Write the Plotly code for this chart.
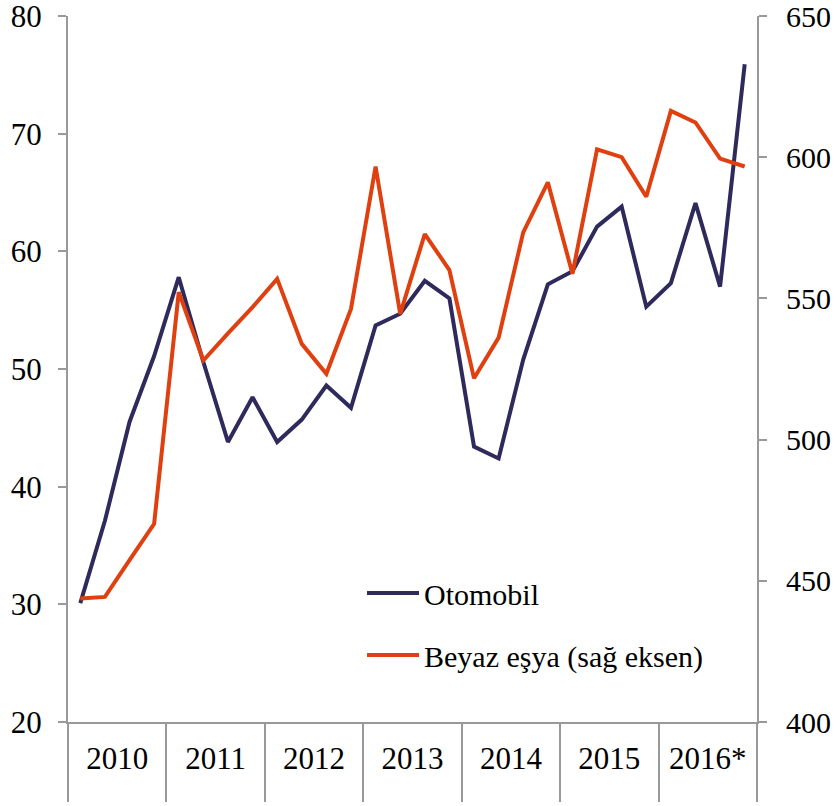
import plotly.graph_objects as go

quarters = list(range(28))
years = ["2010", "2011", "2012", "2013", "2014", "2015", "2016*"]
otomobil = [30.1, 37.1, 45.5, 51.1, 57.8, 50.6, 43.8, 47.6, 43.8, 45.7, 48.6, 46.7,
            53.7, 54.7, 57.5, 56.0, 43.4, 42.4, 50.8, 57.2, 58.3, 62.1, 63.8, 55.3,
            57.3, 64.1, 57.0, 75.9]
beyaz_esya = [443.7, 444.3, 457.3, 470.2, 552.2, 528.0, 537.6, 546.9, 556.9, 533.9,
              523.3, 546.3, 596.7, 544.5, 572.8, 560.0, 521.7, 536.1, 573.4, 591.1,
              558.7, 602.8, 600.0, 586.0, 616.4, 612.3, 599.5, 596.7]

NAVY = "#2e2a5c"
ORANGE = "#e0400f"
AXIS = "#999999"
FONT = "Liberation Serif"

year_centers = [i * 4 + 1.5 for i in range(len(years))]
year_bounds = [i * 4 - 0.5 for i in range(len(years) + 1)]

fig = go.Figure()
fig.add_trace(go.Scatter(x=quarters, y=otomobil, mode="lines", name="Otomobil",
                         line=dict(color=NAVY, width=4), legendgroup="a"))
fig.add_trace(go.Scatter(x=quarters, y=beyaz_esya, mode="lines", name="Beyaz eşya (sağ eksen)",
                         line=dict(color=ORANGE, width=4), yaxis="y2", legendgroup="b"))

fig.update_layout(
    width=837, height=806,
    margin=dict(l=68, r=80, t=16, b=84),
    paper_bgcolor="white", plot_bgcolor="white",
    font=dict(family=FONT, size=30, color="black"),
    showlegend=True,
    legend=dict(x=(362 - 68) / 689, xanchor="left", y=0.2195, yanchor="top",
                bgcolor="rgba(0,0,0,0)", borderwidth=0, itemwidth=52,
                tracegroupgap=20, font=dict(family=FONT, size=30)),
    xaxis=dict(range=[-0.5, 27.5], showgrid=False, zeroline=False, automargin=False,
               showline=True, linecolor=AXIS, linewidth=2,
               tickmode="array", tickvals=year_centers, ticktext=years,
               ticks="outside", ticklen=8, tickcolor="rgba(0,0,0,0)",
               minor=dict(tickmode="array", tickvals=year_bounds, ticks="outside",
                          ticklen=78, tickcolor=AXIS, tickwidth=1.5, showgrid=False),
               tickfont=dict(family=FONT, size=31)),
    yaxis=dict(range=[20, 80], dtick=10, showgrid=False, zeroline=False, automargin=False,
               showline=True, linecolor=AXIS, linewidth=2,
               ticks="outside", ticklen=8, tickcolor=AXIS, tickwidth=2,
               ticklabeloverflow="allow",
               ticklabelstandoff=10, tickfont=dict(family=FONT, size=31)),
    yaxis2=dict(range=[400, 650], dtick=50, overlaying="y", side="right",
                showgrid=False, zeroline=False, automargin=False,
                showline=True, linecolor=AXIS, linewidth=2,
                ticks="outside", ticklen=8, tickcolor=AXIS, tickwidth=2,
                ticklabeloverflow="allow",
                ticklabelstandoff=13, tickfont=dict(family=FONT, size=30)),
)

fig.write_html("out.html", config={"displayModeBar": False},
               post_script="document.body.style.margin='0';document.body.style.overflow='hidden';")
